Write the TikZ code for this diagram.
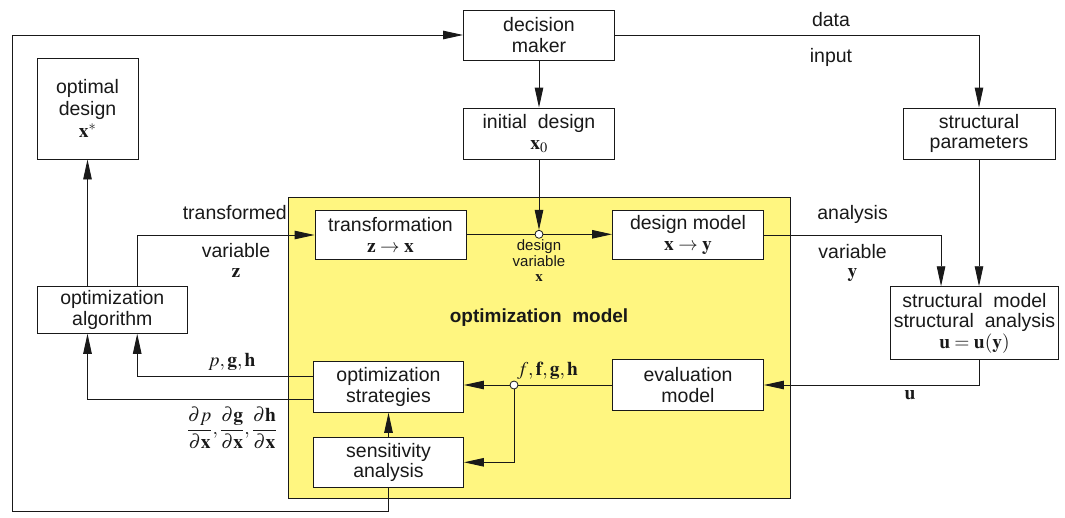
\documentclass[tikz,border=0pt]{standalone}
\usepackage{amsmath}
\usepackage{mathptmx}
\usepackage[no-math]{fontspec}
\setmainfont{Liberation Sans}
\usetikzlibrary{arrows.meta,calc}
\definecolor{ylw}{RGB}{255,246,128}
\definecolor{ink}{RGB}{25,25,25}
\tikzset{
  blk/.style={draw=ink, line width=0.9pt, fill=white, inner sep=0pt, align=center,
              font=\fontsize{19.5}{20.5}\selectfont, text=ink},
  lnk/.style={draw=ink, line width=0.9pt},
  arr/.style={lnk, -{Triangle[length=20pt,width=8.5pt]}},
  lbl/.style={font=\fontsize{19.5}{20.5}\selectfont, text=ink, inner sep=0pt, align=center},
  small/.style={font=\fontsize{15}{15.5}\selectfont, text=ink, inner sep=0pt, align=center},
  junc/.style={circle, draw=ink, fill=white, line width=0.8pt, minimum size=8pt, inner sep=0pt},
  area/.style={draw=ink, line width=0.9pt, fill=ylw, inner sep=0pt},
}
\begin{document}
\begin{tikzpicture}[x=1pt,y=-1pt]
\useasboundingbox (0,0) rectangle (1065,517);
% optimization model area
\node[area, minimum width=502pt, minimum height=301pt] (om) at (539,347.5) {};
\node[lbl, font=\fontsize{19}{19}\selectfont\bfseries] (omt) at (539,318) {optimization\ \ model};
% boxes
\node[blk, minimum width=151pt, minimum height=50pt] (dm) at (539,35) {decision\\maker};
\node[blk, minimum width=151pt, minimum height=51pt] (init) at (539,133.5) {initial\ \ design\\$\mathbf{x}_{0}$};
\node[blk, minimum width=101pt, minimum height=101pt] (opt) at (87.5,108.5) {optimal\\[1pt]design\\[1.5pt]$\mathbf{x}^{*}$};
\node[blk, minimum width=152pt, minimum height=51pt] (sp) at (979,133.5) {structural\\parameters};
\node[blk, minimum width=151pt, minimum height=48.6pt] (tr) at (390.5,235) {transformation\\$\mathbf{z}\rightarrow\mathbf{x}$};
\node[blk, minimum width=151pt, minimum height=48.6pt] (dmod) at (688,235) {design model\\$\mathbf{x}\rightarrow\mathbf{y}$};
\node[blk, minimum width=150.7pt, minimum height=46.6pt] (oa) at (112.3,310) {optimization\\algorithm};
\node[blk, minimum width=168pt, minimum height=72.6pt] (sm) at (974.5,323) {structural\ \ model\\structural\ \ analysis\\$\mathbf{u}=\mathbf{u}(\mathbf{y})$};
\node[blk, minimum width=150pt, minimum height=50.6pt] (os) at (388.5,387) {optimization\\strategies};
\node[blk, minimum width=151pt, minimum height=51.7pt] (em) at (688,385) {evaluation\\model};
\node[blk, minimum width=150pt, minimum height=50pt] (sa) at (388.5,462.3) {sensitivity\\analysis};
% junctions
\node[junc] (c1) at (539,234.3) {};
\node[junc] (c2) at (514,385) {};
% helper coordinates on box sides
\coordinate (oaTL) at ($(oa.north west)+(51,0)$);
\coordinate (oaTR) at ($(oa.north west)+(100.7,0)$);
\coordinate (oaBL) at ($(oa.south west)+(51,0)$);
\coordinate (oaBR) at ($(oa.south west)+(100.7,0)$);
\coordinate (osU) at ($(os.west)+(0,-11)$);
\coordinate (osD) at ($(os.west)+(0,12.3)$);
\coordinate (smA) at ($(sm.north west)+(51,0)$);
% connectors
\draw[arr] (sa.south) |- (12,511) |- (dm.west);
\draw[arr] (dm.south) -- (init.north);
\draw[arr] (dm.east) -| (sp.north);
\draw[arr] (init.south) -- (c1.north);
\draw[lnk] (tr.east |- c1) -- (c1.west);
\draw[arr] (c1.east) -- (dmod.west |- c1);
\draw[arr] (oaTR) |- (tr.west);
\draw[arr] (oaTL) -- (oaTL |- opt.south);
\draw[arr] (dmod.east) -| (smA);
\draw[arr] (sp.south) -- (sp.south |- sm.north);
\draw[arr] (sp.south |- sm.south) |- (em.east);
\draw[lnk] (em.west) -- (c2.east);
\draw[arr] (c2.west) -- (os.east |- c2);
\draw[arr] (c2.south) |- (sa.east);
\draw[arr] (sa.north) -- (os.south);
\draw[arr] (osU) -| (oaBR);
\draw[arr] (osD) -| (oaBL);
% labels
\node[lbl] (ldata) at (831,20) {data};
\node[lbl] (linput) at (831,57) {input};
\node[lbl, anchor=east] (ltrf) at (287,213) {transformed};
\node[lbl] (lvar1) at (236,251) {variable};
\node[lbl] (lz) at (236,273) {$\mathbf{z}$};
\node[lbl] (lana) at (852.6,214) {analysis};
\node[lbl] (lvar2) at (852.6,252) {variable};
\node[lbl] (ly) at (852.6,275) {$\mathbf{y}$};
\node[small] (ldv) at (539,253) {design\\variable};
\node[small] (ldx) at (539,278) {$\mathbf{x}$};
\node[lbl] (lpgh) at (232,362) {$p,\mathbf{g},\mathbf{h}$};
\node[lbl] (lder) at (232,428) {$\dfrac{\partial p}{\partial\mathbf{x}},\dfrac{\partial\mathbf{g}}{\partial\mathbf{x}},\dfrac{\partial\mathbf{h}}{\partial\mathbf{x}}$};
\node[lbl, anchor=west] (lffgh) at (517,371) {$f,\mathbf{f},\mathbf{g},\mathbf{h}$};
\node[lbl] (lu) at (910,395) {$\mathbf{u}$};
\end{tikzpicture}
\end{document}
